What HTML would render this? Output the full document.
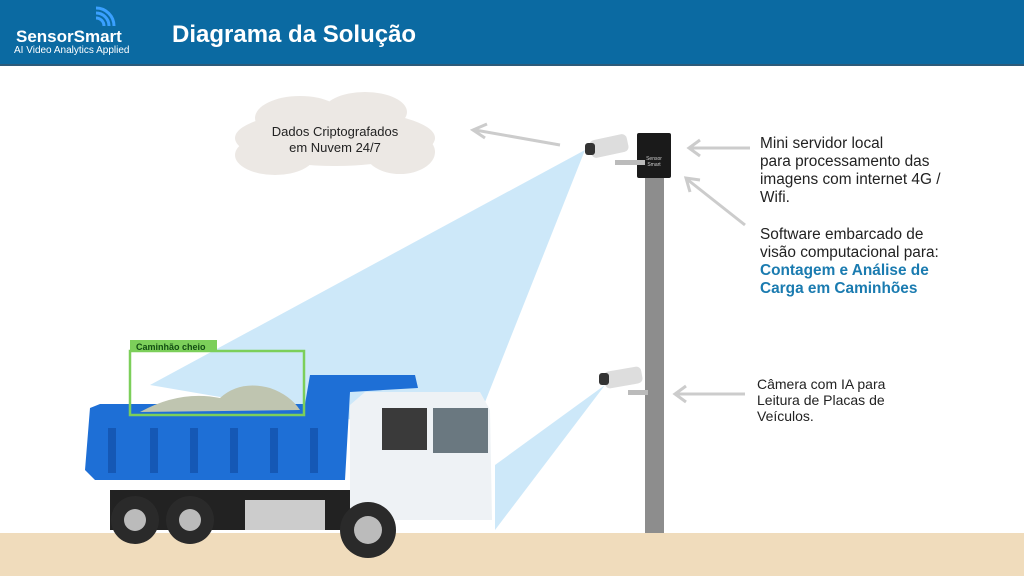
<!DOCTYPE html>
<html><head><meta charset="utf-8"><style>
body{margin:0;width:1024px;height:576px;overflow:hidden;background:#fff;font-family:"Liberation Sans",sans-serif}
.hdr{position:absolute;left:0;top:0;width:1024px;height:64px;background:#0b6aa2;border-bottom:2px solid #2d5b7a}
.t{position:absolute;color:#222;font-size:15.4px;line-height:18px}
</style></head><body>
<div class="hdr"></div>
<div style="position:absolute;left:16px;top:27px;color:#fff;font-weight:bold;font-size:17px">SensorSmart</div>
<div style="position:absolute;left:14px;top:45px;color:#fff;font-size:10px">AI Video Analytics Applied</div>
<div style="position:absolute;left:172px;top:21px;color:#fff;font-weight:bold;font-size:24px">Diagrama da Solução</div>
<svg width="1024" height="576" style="position:absolute;left:0;top:0">
<path d="M96 18 a8 8 0 0 1 8 8 M96 13 a13 13 0 0 1 13 13 M96 8 a18 18 0 0 1 18 18" stroke="#3aa0ff" stroke-width="3" fill="none"/>
<polygon points="585,150 150,385 470,440" fill="#c8e6f8" opacity="0.9"/>
<polygon points="605,385 495,465 495,530" fill="#c8e6f8" opacity="0.9"/>
<rect x="0" y="533" width="1024" height="43" fill="#f0dcbc"/>
<g fill="#ece8e4"><ellipse cx="335" cy="138" rx="100" ry="28"/><ellipse cx="300" cy="118" rx="45" ry="22"/><ellipse cx="365" cy="112" rx="42" ry="20"/><ellipse cx="400" cy="152" rx="35" ry="22"/><ellipse cx="275" cy="155" rx="40" ry="20"/></g>
<g stroke="#ccc" stroke-width="3" fill="none">
<path d="M560 145 L475 130 M487 124 L473 130 L485 138"/>
<path d="M750 148 L690 148 M700 140 L689 148 L700 156"/>
<path d="M745 225 L688 180 M690 192 L686 178 L700 180"/>
<path d="M745 394 L676 394 M686 386 L675 394 L686 402"/>
</g>
<rect x="645" y="175" width="19" height="358" fill="#8d8d8d"/>
<rect x="637" y="133" width="34" height="45" rx="2" fill="#1a1a1a"/>
<text x="654" y="160" font-size="5" fill="#ccc" text-anchor="middle">Sensor</text>
<text x="654" y="166" font-size="5" fill="#ccc" text-anchor="middle">Smart</text>
<rect x="590" y="137" width="38" height="18" rx="5" fill="#ddd" transform="rotate(-12 609 146)"/>
<rect x="585" y="143" width="10" height="12" rx="3" fill="#333"/>
<rect x="615" y="160" width="30" height="5" fill="#bbb"/>
<rect x="604" y="369" width="38" height="17" rx="5" fill="#ddd" transform="rotate(-10 623 377)"/>
<rect x="599" y="373" width="10" height="12" rx="3" fill="#333"/>
<rect x="628" y="390" width="20" height="5" fill="#bbb"/>
<rect x="110" y="490" width="240" height="40" fill="#222"/>
<polygon points="90,408 100,404 305,404 310,375 415,375 418,388 350,392 345,480 95,480 85,470" fill="#1e6fd6"/>
<g fill="#1558b5"><rect x="108" y="428" width="8" height="45"/><rect x="150" y="428" width="8" height="45"/><rect x="190" y="428" width="8" height="45"/><rect x="230" y="428" width="8" height="45"/><rect x="270" y="428" width="8" height="45"/><rect x="310" y="428" width="8" height="45"/></g>
<path d="M140 412 Q180 390 220 398 Q240 380 270 388 Q290 395 300 410 Z" fill="#bfc5b0"/>
<polygon points="350,405 365,392 480,392 490,410 492,520 350,520" fill="#eef2f5"/>
<rect x="433" y="408" width="55" height="45" fill="#6a7880"/>
<rect x="382" y="408" width="45" height="42" fill="#3a3a3a"/>
<rect x="245" y="500" width="80" height="30" fill="#ccc"/>
<g fill="#2a2a2a"><circle cx="135" cy="520" r="24"/><circle cx="190" cy="520" r="24"/><circle cx="368" cy="530" r="28"/></g>
<g fill="#bbb"><circle cx="135" cy="520" r="11"/><circle cx="190" cy="520" r="11"/><circle cx="368" cy="530" r="14"/></g>
<rect x="130" y="351" width="174" height="64" fill="none" stroke="#7ccf5a" stroke-width="2.5"/>
<rect x="130" y="340" width="87" height="12" fill="#7ccf5a"/>
<text x="136" y="350" font-size="9" font-weight="bold" fill="#124d12">Caminhão  cheio</text>
</svg>
<div class="t" style="left:250px;top:124px;width:170px;text-align:center;font-size:13px;line-height:16px">Dados Criptografados<br>em Nuvem 24/7</div>
<div class="t" style="left:760px;top:135px">Mini servidor local<br>para processamento das<br>imagens com internet 4G /<br>Wifi.</div>
<div class="t" style="left:760px;top:226px">Software embarcado de<br>visão computacional para:<br><b style="color:#1a7bb0">Contagem e Análise de<br>Carga em Caminhões</b></div>
<div class="t" style="left:757px;top:376px;font-size:14px;line-height:16px">Câmera com IA para<br>Leitura de Placas de<br>Veículos.</div>
</body></html>
